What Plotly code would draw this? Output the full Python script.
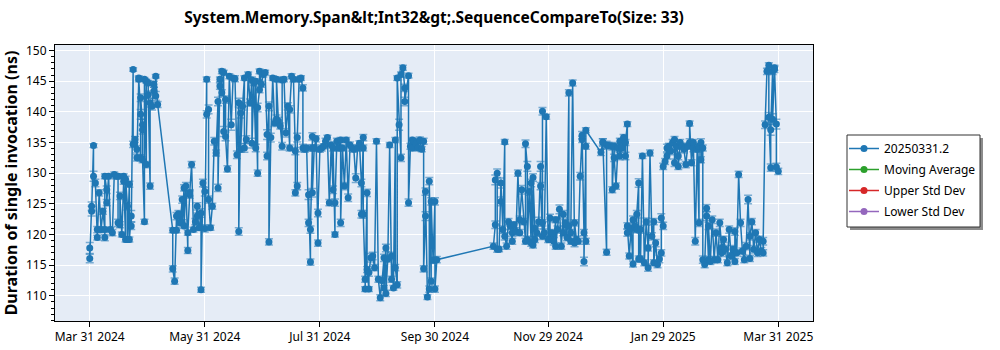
import plotly.graph_objects as go

# ---------------- data ----------------
spring_dates = [
    "2024-03-31", "2024-03-31", "2024-04-01", "2024-04-01", "2024-04-02", "2024-04-02",
    "2024-04-03", "2024-04-04", "2024-04-04", "2024-04-05", "2024-04-06", "2024-04-07",
    "2024-04-08", "2024-04-08", "2024-04-08", "2024-04-09", "2024-04-09", "2024-04-10",
    "2024-04-11", "2024-04-12", "2024-04-13", "2024-04-14", "2024-04-15", "2024-04-15",
    "2024-04-16", "2024-04-16", "2024-04-17", "2024-04-18", "2024-04-18", "2024-04-19",
    "2024-04-19", "2024-04-20", "2024-04-20", "2024-04-21", "2024-04-21", "2024-04-22",
    "2024-04-22", "2024-04-23", "2024-04-23", "2024-04-24", "2024-04-25", "2024-04-25",
    "2024-04-26", "2024-04-26", "2024-04-27", "2024-04-27", "2024-04-27", "2024-04-28",
    "2024-04-28", "2024-04-28", "2024-04-29", "2024-04-29", "2024-04-30", "2024-04-30",
    "2024-05-01", "2024-05-01", "2024-05-02", "2024-05-02", "2024-05-03", "2024-05-04",
    "2024-05-04", "2024-05-05", "2024-05-05", "2024-05-06",
    "2024-05-14", "2024-05-14", "2024-05-15", "2024-05-16", "2024-05-16", "2024-05-17",
    "2024-05-18", "2024-05-19", "2024-05-19", "2024-05-20", "2024-05-20", "2024-05-21",
    "2024-05-22", "2024-05-22", "2024-05-23", "2024-05-23", "2024-05-24", "2024-05-25",
    "2024-05-26", "2024-05-27", "2024-05-27", "2024-05-28", "2024-05-29", "2024-05-29",
    "2024-05-30", "2024-05-31", "2024-05-31", "2024-06-01", "2024-06-01", "2024-06-02",
    "2024-06-02", "2024-06-03", "2024-06-04", "2024-06-05", "2024-06-06", "2024-06-07",
    "2024-06-07", "2024-06-08", "2024-06-08", "2024-06-09", "2024-06-09",
]
spring_ns = [
    117.8, 116.1, 124.6, 123.8, 134.5, 129.5,
    128.4, 120.8, 119.5, 126.8, 120.8, 123.8,
    120.8, 119.5, 129.5, 127.3, 125.2, 129.5,
    120.8, 120.3, 129.8, 129.5, 129.5, 121.9,
    121.6, 126.3, 120.0, 128.7, 129.5, 119.2,
    129.0, 124.6, 119.2, 128.2, 119.2, 123.0,
    121.4, 146.9, 134.7, 135.5, 133.9, 132.5,
    145.5, 145.3, 139.6, 132.5, 142.3, 137.9,
    137.1, 132.2, 122.1, 145.3, 131.4, 145.0,
    144.7, 142.8, 127.9, 141.5, 140.9, 144.5,
    143.4, 142.6, 145.8, 141.2,
    120.7, 114.4, 112.4, 123.0, 120.7, 123.4,
    121.9, 125.7, 121.9, 127.6, 121.4, 127.9,
    117.4, 120.3, 126.5, 126.8, 131.4, 120.8,
    122.1, 124.6, 123.0, 121.1, 123.5, 111.0,
    128.4, 127.0, 121.0, 145.3, 139.6, 140.4,
    125.7, 121.1, 124.6, 135.2, 133.3, 141.7,
    127.6, 145.3, 144.2, 143.1, 146.6,
]
spring_err = [
    0.9, 0.7, 0.7, 0.8, 0.3, 0.8,
    0.6, 0.5, 0.4, 0.5, 0.4, 0.5,
    0.4, 0.5, 0.4, 0.6, 0.5, 0.4,
    0.4, 0.5, 0.4, 0.4, 0.4, 0.6,
    0.5, 0.6, 0.4, 0.5, 0.4, 0.4,
    0.5, 0.6, 0.4, 0.5, 0.4, 0.9,
    0.6, 0.3, 0.5, 0.5, 0.6, 0.5,
    0.4, 0.4, 0.8, 0.5, 0.6, 0.9,
    0.7, 0.5, 0.4, 0.3, 0.5, 0.3,
    0.4, 0.6, 0.5, 0.7, 0.6, 0.5,
    0.6, 0.7, 0.3, 0.5,
    0.4, 0.5, 0.5, 0.6, 0.4, 0.5,
    0.4, 0.6, 0.5, 0.5, 0.4, 0.6,
    0.5, 0.4, 0.6, 0.5, 0.5, 0.4,
    0.5, 0.6, 0.5, 0.4, 0.7, 0.4,
    0.6, 0.7, 0.6, 0.4, 0.6, 0.7,
    0.6, 0.4, 0.5, 0.6, 0.5, 0.7,
    0.6, 0.4, 0.5, 0.5, 0.4,
]

summer_dates = [
    "2024-06-10", "2024-06-10", "2024-06-11", "2024-06-11", "2024-06-12", "2024-06-13",
    "2024-06-14", "2024-06-15", "2024-06-16", "2024-06-17", "2024-06-18", "2024-06-18",
    "2024-06-19", "2024-06-19", "2024-06-20", "2024-06-21", "2024-06-21", "2024-06-22",
    "2024-06-23", "2024-06-24", "2024-06-25", "2024-06-25", "2024-06-26", "2024-06-27",
    "2024-06-27", "2024-06-28", "2024-06-28", "2024-06-29", "2024-06-29", "2024-06-30",
    "2024-07-01", "2024-07-02", "2024-07-03", "2024-07-03", "2024-07-04", "2024-07-04",
    "2024-07-05", "2024-07-06", "2024-07-07", "2024-07-08", "2024-07-08", "2024-07-09",
    "2024-07-10", "2024-07-11", "2024-07-11", "2024-07-12", "2024-07-13", "2024-07-14",
    "2024-07-15", "2024-07-15", "2024-07-16", "2024-07-17", "2024-07-18", "2024-07-18",
    "2024-07-19", "2024-07-19", "2024-07-20", "2024-07-21", "2024-07-22", "2024-07-22",
    "2024-07-23", "2024-07-24", "2024-07-25", "2024-07-25", "2024-07-26", "2024-07-26",
    "2024-07-27", "2024-07-27", "2024-07-27", "2024-07-28", "2024-07-29", "2024-07-30",
    "2024-07-30", "2024-07-31", "2024-08-01", "2024-08-02", "2024-08-03", "2024-08-04",
    "2024-08-05", "2024-08-06", "2024-08-07", "2024-08-07", "2024-08-08", "2024-08-08",
    "2024-08-09", "2024-08-10", "2024-08-11", "2024-08-11", "2024-08-12", "2024-08-13",
    "2024-08-14", "2024-08-15", "2024-08-16", "2024-08-17", "2024-08-18", "2024-08-19",
    "2024-08-20", "2024-08-21", "2024-08-22", "2024-08-22",
]
summer_ns = [
    146.4, 136.8, 142.0, 136.0, 130.7, 145.8,
    137.9, 145.5, 145.4, 133.0, 141.5, 120.5,
    139.8, 133.9, 140.9, 145.5, 134.1, 135.5,
    146.1, 141.5, 145.2, 134.9, 144.7, 134.1,
    145.0, 130.0, 140.7, 143.6, 146.6, 144.5,
    146.1, 146.4, 136.3, 132.8, 140.9, 118.8,
    135.8, 145.5, 138.2, 138.8, 145.3, 138.5,
    137.7, 134.4, 145.2, 145.3, 136.6, 140.9,
    134.1, 140.4, 145.8, 145.3, 133.6, 126.8,
    127.9, 135.8, 145.3, 145.5, 143.9, 134.1,
    133.9, 134.1, 121.9, 126.5, 115.5, 120.8,
    134.1, 136.0, 126.8, 134.1, 135.6, 118.6,
    123.5, 133.9, 134.1, 134.4, 135.2, 135.8,
    125.2, 134.6, 127.3, 134.1, 120.0, 125.2,
    135.2, 134.1, 135.4, 121.9, 134.1, 127.9,
    135.4, 126.0, 134.6, 134.1, 133.9, 129.2,
    134.1, 134.9, 128.4, 123.3,
]
summer_err = [
    0.4, 0.8, 0.6, 0.7, 0.5, 0.4,
    0.9, 0.4, 0.5, 0.6, 0.7, 0.6,
    0.8, 0.5, 0.6, 0.4, 0.7, 0.6,
    0.4, 0.6, 0.5, 0.8, 0.4, 0.6,
    0.4, 0.5, 0.7, 0.5, 0.4, 0.5,
    0.4, 0.4, 0.8, 0.6, 0.7, 0.5,
    0.7, 0.4, 0.6, 0.7, 0.4, 0.6,
    0.5, 0.6, 0.4, 0.4, 0.7, 0.6,
    0.5, 0.6, 0.4, 0.4, 0.6, 0.5,
    0.6, 0.7, 0.4, 0.4, 0.5, 0.6,
    0.5, 0.5, 0.6, 0.8, 0.5, 0.6,
    0.5, 0.6, 0.7, 0.5, 0.5, 0.5,
    0.6, 0.5, 0.5, 0.4, 0.5, 0.4,
    0.5, 0.5, 0.6, 0.5, 0.4, 0.6,
    0.5, 0.5, 0.4, 0.6, 0.5, 0.6,
    0.4, 0.6, 0.5, 0.5, 0.5, 0.7,
    0.5, 0.4, 0.6, 0.6,
]

autumn_dates = [
    "2024-08-23", "2024-08-23", "2024-08-23", "2024-08-24", "2024-08-24", "2024-08-25",
    "2024-08-25", "2024-08-26", "2024-08-26", "2024-08-27", "2024-08-28", "2024-08-29",
    "2024-08-30", "2024-08-31", "2024-09-01", "2024-09-02", "2024-09-03", "2024-09-03",
    "2024-09-04", "2024-09-04", "2024-09-05", "2024-09-06", "2024-09-07", "2024-09-07",
    "2024-09-08", "2024-09-09", "2024-09-09", "2024-09-10", "2024-09-10", "2024-09-11",
    "2024-09-12", "2024-09-12", "2024-09-13", "2024-09-14", "2024-09-14", "2024-09-16",
    "2024-09-16", "2024-09-17", "2024-09-18", "2024-09-18", "2024-09-19", "2024-09-20",
    "2024-09-21", "2024-09-22", "2024-09-23", "2024-09-24", "2024-09-24", "2024-09-25",
    "2024-09-25", "2024-09-26", "2024-09-27", "2024-09-27", "2024-09-28", "2024-09-28",
    "2024-09-29", "2024-09-30", "2024-09-30", "2024-10-01",
]
autumn_ns = [
    135.8, 134.1, 123.3, 112.7, 111.1, 126.8,
    114.3, 111.1, 113.8, 116.2, 116.5, 114.6,
    135.2, 112.7, 109.7, 112.5, 116.2, 111.3,
    117.8, 110.4, 116.0, 134.6, 112.7, 116.5,
    111.3, 135.4, 114.6, 111.8, 145.5, 137.9,
    132.5, 146.1, 147.2, 143.9, 141.7, 145.9,
    125.2, 134.4, 135.4, 134.1, 135.2, 134.8,
    134.1, 135.4, 133.9, 135.2, 114.4, 123.0,
    127.0, 109.8, 111.1, 128.7, 112.4, 125.4,
    115.8, 125.4, 111.1, 115.9,
]
autumn_err = [
    0.5, 0.5, 0.6, 0.5, 0.4, 0.6,
    0.5, 0.4, 0.6, 0.7, 0.6, 0.5,
    0.4, 0.5, 0.5, 0.4, 0.6, 0.4,
    0.6, 0.5, 0.5, 0.4, 0.5, 0.6,
    0.4, 0.4, 0.5, 0.5, 0.4, 0.9,
    0.6, 0.4, 0.4, 0.6, 0.7, 0.4,
    0.6, 0.5, 0.4, 0.5, 0.4, 0.5,
    0.4, 0.5, 0.4, 0.5, 0.5, 0.7,
    0.6, 0.4, 0.5, 0.6, 0.5, 0.6,
    0.5, 0.6, 0.5, 0.5,
]

winter_dates = [
    "2024-10-31", "2024-11-01", "2024-11-01", "2024-11-02", "2024-11-02", "2024-11-03",
    "2024-11-04", "2024-11-04", "2024-11-05", "2024-11-06", "2024-11-06", "2024-11-07",
    "2024-11-08", "2024-11-09", "2024-11-10", "2024-11-10", "2024-11-11", "2024-11-12",
    "2024-11-13", "2024-11-14", "2024-11-14", "2024-11-15", "2024-11-16", "2024-11-17",
    "2024-11-17", "2024-11-18", "2024-11-18", "2024-11-19", "2024-11-20", "2024-11-20",
    "2024-11-21", "2024-11-21", "2024-11-22", "2024-11-22", "2024-11-23", "2024-11-24",
    "2024-11-25", "2024-11-25", "2024-11-26", "2024-11-26", "2024-11-26", "2024-11-27",
    "2024-11-28", "2024-11-29", "2024-11-30", "2024-11-30", "2024-12-01", "2024-12-02",
    "2024-12-03", "2024-12-03", "2024-12-04", "2024-12-05", "2024-12-06", "2024-12-07",
    "2024-12-07", "2024-12-08", "2024-12-09", "2024-12-10", "2024-12-10", "2024-12-11",
    "2024-12-11", "2024-12-12", "2024-12-13", "2024-12-13", "2024-12-14", "2024-12-15",
    "2024-12-16", "2024-12-17", "2024-12-17", "2024-12-18", "2024-12-18", "2024-12-19",
    "2024-12-19", "2024-12-19",
]
winter_ns = [
    118.1, 121.6, 128.9, 130.0, 117.6, 117.6,
    125.4, 128.4, 120.8, 135.1, 119.7, 118.1,
    122.1, 121.4, 118.9, 120.3, 121.6, 120.5,
    130.0, 120.3, 122.4, 127.3, 122.1, 118.9,
    134.8, 131.1, 119.2, 127.0, 118.6, 128.4,
    118.3, 129.3, 121.0, 119.2, 120.3, 122.1,
    131.1, 127.9, 119.7, 140.1, 121.9, 120.3,
    139.2, 119.2, 122.7, 119.2, 120.3, 118.9,
    122.4, 118.1, 120.8, 124.1, 118.1, 123.3,
    120.3, 121.9, 119.5, 143.1, 121.4, 118.9,
    120.3, 144.7, 118.6, 121.9, 119.2, 118.9,
    129.5, 135.5, 136.2, 120.3, 115.6, 134.4,
    118.9, 137.0,
]
winter_err = [
    0.5, 0.6, 0.8, 0.7, 0.5, 0.4,
    0.7, 0.8, 0.6, 0.4, 0.6, 0.5,
    0.5, 0.6, 0.5, 0.6, 0.5, 0.6,
    0.5, 0.5, 0.6, 0.7, 0.5, 0.5,
    0.6, 0.8, 0.5, 0.6, 0.5, 0.6,
    0.5, 0.6, 0.5, 0.5, 0.6, 0.7,
    0.8, 0.6, 0.5, 0.6, 0.5, 0.6,
    0.4, 0.5, 0.6, 0.5, 0.5, 0.6,
    0.5, 0.5, 0.6, 0.7, 0.5, 0.6,
    0.5, 0.5, 0.5, 0.5, 0.6, 0.5,
    0.5, 0.5, 0.6, 0.5, 0.5, 0.5,
    0.6, 0.5, 0.6, 0.5, 0.7, 0.5,
    0.5, 0.4,
]

late_dates = [
    "2024-12-27", "2024-12-28", "2024-12-28", "2024-12-30", "2024-12-30", "2024-12-31",
    "2025-01-02", "2025-01-02", "2025-01-03", "2025-01-03", "2025-01-04", "2025-01-05",
    "2025-01-06", "2025-01-06", "2025-01-07", "2025-01-08", "2025-01-09", "2025-01-09",
    "2025-01-10", "2025-01-10", "2025-01-10", "2025-01-11", "2025-01-12", "2025-01-13",
    "2025-01-13", "2025-01-14", "2025-01-15", "2025-01-15", "2025-01-16", "2025-01-16",
    "2025-01-17", "2025-01-17", "2025-01-18", "2025-01-19", "2025-01-20", "2025-01-21",
    "2025-01-21", "2025-01-22", "2025-01-23", "2025-01-24", "2025-01-24", "2025-01-25",
    "2025-01-26", "2025-01-27", "2025-01-28", "2025-01-28", "2025-01-29", "2025-01-29",
    "2025-01-30", "2025-01-31", "2025-01-31", "2025-02-01", "2025-02-02", "2025-02-03",
    "2025-02-04", "2025-02-04", "2025-02-05", "2025-02-06", "2025-02-06", "2025-02-07",
    "2025-02-08", "2025-02-09", "2025-02-10", "2025-02-11", "2025-02-12", "2025-02-12",
    "2025-02-13", "2025-02-14", "2025-02-14", "2025-02-15", "2025-02-16", "2025-02-17",
    "2025-02-17", "2025-02-18", "2025-02-18", "2025-02-19", "2025-02-19", "2025-02-20",
    "2025-02-21", "2025-02-21", "2025-02-22", "2025-02-22", "2025-02-23", "2025-02-24",
    "2025-02-25", "2025-02-26", "2025-02-27", "2025-02-28", "2025-03-01", "2025-03-01",
    "2025-03-02", "2025-03-03", "2025-03-04", "2025-03-05", "2025-03-06", "2025-03-07",
    "2025-03-08", "2025-03-08", "2025-03-09", "2025-03-10", "2025-03-11", "2025-03-12",
    "2025-03-13", "2025-03-14", "2025-03-15", "2025-03-16", "2025-03-16", "2025-03-17",
    "2025-03-18", "2025-03-19", "2025-03-20", "2025-03-21", "2025-03-22", "2025-03-23",
    "2025-03-23", "2025-03-24", "2025-03-25", "2025-03-26", "2025-03-26", "2025-03-27",
    "2025-03-27", "2025-03-28", "2025-03-28", "2025-03-29", "2025-03-29", "2025-03-30",
    "2025-03-30", "2025-03-31",
]
late_ns = [
    133.4, 135.0, 135.1, 117.1, 134.6, 134.5,
    134.4, 127.3, 134.4, 132.5, 127.9, 134.1,
    135.2, 132.8, 134.1, 135.8, 132.8, 135.0,
    138.0, 120.3, 121.4, 116.5, 121.0, 115.2,
    122.4, 121.4, 120.8, 123.3, 128.4, 116.0,
    120.8, 116.0, 132.8, 115.4, 122.1, 117.8,
    114.6, 133.3, 119.7, 122.1, 115.4, 118.6,
    115.1, 116.0, 117.0, 122.7, 121.4, 131.1,
    131.9, 134.1, 132.8, 134.4, 133.6, 135.0,
    135.5, 131.7, 134.4, 132.8, 131.1, 135.0,
    134.4, 133.9, 131.4, 134.4, 135.0, 138.1,
    131.7, 134.1, 135.0, 118.9, 133.9, 121.9,
    134.4, 135.0, 132.2, 134.1, 115.9, 115.1,
    123.0, 124.3, 115.9, 121.4, 115.6, 122.4,
    115.9, 120.3, 115.9, 121.9, 117.8, 117.0,
    119.2, 117.6, 115.4, 120.8, 116.5, 117.6,
    115.6, 120.5, 117.0, 129.8, 121.9, 117.3,
    115.9, 118.1, 125.7, 116.1, 119.7, 122.1,
    117.6, 120.3, 117.0, 119.2, 117.3, 117.0,
    118.9, 137.9, 146.6, 147.6, 139.1, 130.9,
    137.1, 146.6, 138.8, 146.9, 147.2, 138.0,
    131.0, 130.3,
]
late_err = [
    0.5, 0.6, 0.5, 0.5, 0.6, 0.5,
    0.6, 0.5, 0.5, 0.6, 0.5, 0.6,
    0.5, 0.6, 0.5, 0.5, 0.6, 0.5,
    0.4, 0.6, 0.5, 0.5, 0.6, 0.5,
    0.6, 0.5, 0.5, 0.6, 0.7, 0.5,
    0.6, 0.5, 0.4, 0.5, 0.6, 0.5,
    0.6, 0.5, 0.6, 0.5, 0.5, 0.6,
    0.5, 0.6, 0.5, 0.7, 0.6, 0.5,
    0.5, 0.6, 0.5, 0.5, 0.6, 0.5,
    0.5, 0.6, 0.5, 0.6, 0.5, 0.5,
    0.5, 0.6, 0.5, 0.5, 0.6, 0.4,
    0.5, 0.6, 0.5, 0.6, 0.5, 0.6,
    0.5, 0.6, 0.5, 0.5, 0.6, 0.5,
    0.7, 0.6, 0.5, 0.6, 0.5, 0.6,
    0.5, 0.6, 0.5, 0.6, 0.5, 0.6,
    0.5, 0.6, 0.5, 0.6, 0.5, 0.6,
    0.5, 0.6, 0.5, 0.5, 0.6, 0.5,
    0.5, 0.6, 0.7, 0.5, 0.6, 0.5,
    0.6, 0.5, 0.6, 0.5, 0.6, 0.5,
    0.6, 0.6, 0.5, 0.4, 0.8, 0.6,
    0.9, 0.5, 0.9, 0.5, 0.4, 0.8,
    0.6, 0.5,
]

tick_dates = ["2024-03-31", "2024-05-31", "2024-07-31", "2024-09-30",
              "2024-11-29", "2025-01-29", "2025-03-31"]
tick_labels = ["Mar 31 2024", "May 31 2024", "Jul 31 2024", "Sep 30 2024",
               "Nov 29 2024", "Jan 29 2025", "Mar 31 2025"]
y_ticks = [110, 115, 120, 125, 130, 135, 140, 145, 150]

series_name = "20250331.2"
aux_names = ["Moving Average", "Upper Std Dev", "Lower Std Dev"]
aux_colors = ["#2ca02c", "#d62728", "#9467bd"]

run_dates = spring_dates + summer_dates + autumn_dates + winter_dates + late_dates
mean_ns = spring_ns + summer_ns + autumn_ns + winter_ns + late_ns
err_ns = spring_err + summer_err + autumn_err + winter_err + late_err

# ---------------- figure ----------------
FONT = "Noto Sans"
W, H = 1000, 350
ML, MR, MT, MB = 55, 187, 45, 29
PW, PH = W - ML - MR, H - MT - MB


def px_x(x):
    return (x - ML) / PW


def px_y(y):
    return (H - MB - y) / PH


fig = go.Figure()
fig.add_trace(go.Scatter(
    x=run_dates, y=mean_ns, name=series_name, mode="lines+markers",
    legendgroup="g0",
    line=dict(color="#1f77b4", width=1.5),
    marker=dict(color="#1f77b4", size=7),
    error_y=dict(type="data", array=err_ns, visible=True,
                 color="rgba(31,119,180,0.55)", thickness=1.5, width=4),
))
for i, (nm, col) in enumerate(zip(aux_names, aux_colors)):
    fig.add_trace(go.Scatter(
        x=[None], y=[None], name=nm, mode="lines+markers",
        legendgroup=f"g{i + 1}",
        line=dict(color=col, width=1.5), marker=dict(color=col, size=7),
    ))

# legend frame with drop shadow
lx0, lx1, ly0, ly1 = 847, 980, 135, 227
fig.add_shape(type="rect", xref="paper", yref="paper",
              x0=px_x(lx0 + 3), x1=px_x(lx1 + 3), y0=px_y(ly1 + 3), y1=px_y(ly0 + 3),
              fillcolor="#8c8c8c", line=dict(width=0), layer="above")
fig.add_shape(type="rect", xref="paper", yref="paper",
              x0=px_x(lx0), x1=px_x(lx1), y0=px_y(ly1), y1=px_y(ly0),
              fillcolor="white", line=dict(color="#333333", width=1), layer="above")

fig.update_layout(
    width=W, height=H,
    margin=dict(l=ML, r=MR, t=MT, b=MB, autoexpand=False),
    paper_bgcolor="white", plot_bgcolor="#E5ECF6",
    font=dict(family=FONT, size=12, color="black"),
    title=dict(text="System.Memory.Span&amp;lt;Int32&amp;gt;.SequenceCompareTo(Size: 33)",
               font=dict(family=FONT, size=15.5, color="black", weight="bold"),
               x=0.5, xref="paper", xanchor="center",
               y=1 - 18 / H, yref="container", yanchor="middle"),
    showlegend=True,
    legend=dict(x=px_x(lx0 - 3), y=px_y(ly0 - 1), xanchor="left", yanchor="top",
                bgcolor="rgba(0,0,0,0)", borderwidth=0, tracegroupgap=2,
                font=dict(family=FONT, size=12, color="black")),
    xaxis=dict(type="date", range=["2024-03-12 14:00", "2025-04-18 10:00"],
               tickvals=tick_dates, ticktext=tick_labels,
               showgrid=True, gridcolor="white", gridwidth=1, zeroline=False,
               showline=True, linecolor="black", linewidth=1, mirror=True,
               ticks="outside", ticklen=5, tickcolor="black"),
    yaxis=dict(range=[105.9, 150.9], tickvals=y_ticks,
               showgrid=True, gridcolor="white", gridwidth=1, zeroline=False,
               showline=True, linecolor="black", linewidth=1, mirror=True,
               ticks="outside", ticklen=5, tickcolor="black",
               minor=dict(ticks="outside", ticklen=3, dtick=1, tickcolor="black", showgrid=False),
               title=dict(text="Duration of single invocation (ns)",
                          font=dict(family=FONT, size=16, color="black", weight="bold"),
                          standoff=8)),
)

fig.write_html("out.html", config={"displayModeBar": False})
